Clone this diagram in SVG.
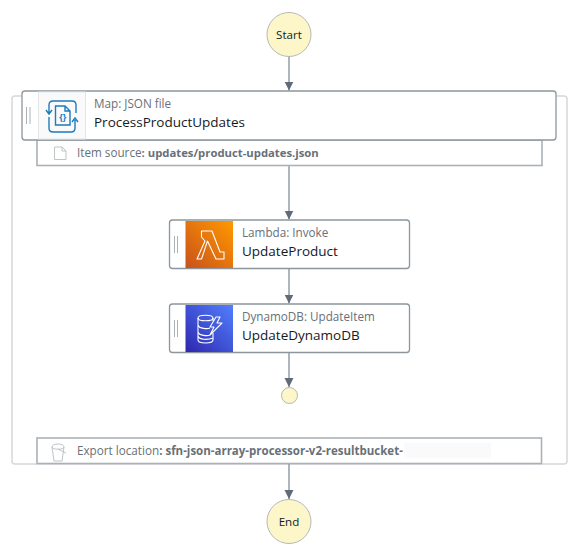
<svg xmlns="http://www.w3.org/2000/svg" width="579" height="555" viewBox="0 0 579 555">
<style>
text{font-family:"Open Sans","Noto Sans","Liberation Sans",sans-serif}
.term{fill:#fdf6c9;stroke:#b5b9b5;stroke-width:1}
.tt{font-size:11.6px;font-weight:500;fill:#16191f;text-anchor:middle}
.node{fill:#fff;stroke:#8d969c;stroke-width:1.3}
.bar{fill:#fff;stroke:#aab2b7;stroke-width:1.6}
.sub{font-size:11.7px;fill:#687078}
.name{font-size:13.5px;fill:#16191f}
.b{font-weight:700;font-size:11.3px}
.edge{fill:none;stroke:#5f6b7a;stroke-width:1;marker-end:url(#a)}
.grip{stroke:#aab2b7;stroke-width:1}
.ic{fill:none;stroke:#fff;stroke-width:1.1;stroke-linejoin:round}
.blue{fill:none;stroke:#1b7bbf;stroke-width:1.4}
.grey{fill:none;stroke:#b8bdc0;stroke-width:.9}
</style>
<defs>
<marker id="a" markerUnits="userSpaceOnUse" markerWidth="10" markerHeight="10" refX="9" refY="4.500" orient="auto"><path d="M0 0L9 4.500L0 9Z" fill="#5f6b7a"/></marker>
<linearGradient id="o" x1="0" y1="1" x2="1" y2="0"><stop offset="0" stop-color="#c8511b"/><stop offset="1" stop-color="#ff9900"/></linearGradient>
<linearGradient id="d" x1="0" y1="1" x2="1" y2="0"><stop offset="0" stop-color="#2e27ad"/><stop offset="1" stop-color="#527fff"/></linearGradient>
</defs>
<rect id="container" x="12" y="96" width="555" height="368" rx="3" fill="#fff" stroke="#d5d9dc" stroke-width="1.5"/>
<g id="edges">
<path class="edge" d="M289 56V90.500"/>
<path class="edge" d="M289 166V219.500"/>
<path class="edge" d="M289 268V303.500"/>
<path class="edge" d="M289 353V387"/>
<path class="edge" d="M289 464V499"/>
</g>
<g id="start"><circle class="term" cx="289" cy="34.500" r="22"/><text class="tt" x="289" y="39">Start</text></g>
<g id="item-source"><rect class="bar" x="37" y="140" width="505" height="25.500"/>
<path class="grey" d="M54.500 147H62L66 151V159.500H54.500Z M62 147V151H66"/>
<text class="sub" x="77" y="157">Item source<tspan class="b">: updates/product-updates.json</tspan></text></g>
<g id="map"><rect class="node" x="22" y="91" width="534" height="49" rx="3"/>
<rect x="38.500" y="92" width="47" height="47" fill="#fafafa" stroke="#e3e6e8" stroke-width="1"/>
<path class="grip" d="M26.500 107V124M30 107V124"/>
<path class="blue" d="M49 113V105Q49 101 53 101H72Q76 101 76 105V113M49 117V128Q49 132 53 132H71Q75 132 75 128V120M46 110L49 114L52 110M72 122L75 118L78 122"/>
<path class="blue" d="M55.500 106H65L70 111V125H55.500Z M65 106V111H70"/>
<text x="62.700" y="120" font-size="9" font-weight="700" fill="#1b7bbf" text-anchor="middle">{}</text>
<text class="sub" x="94" y="108">Map: JSON file</text><text class="name" x="94" y="127">ProcessProductUpdates</text></g>
<g id="update-product"><rect class="node" x="169.500" y="220" width="240" height="48.500" rx="3"/>
<rect x="185.500" y="221" width="47.500" height="47" fill="url(#o)"/>
<path class="grip" d="M174.500 236V253M177.500 236V253"/>
<path class="ic" d="M201.500 231H212L220 252H224V259H216L207.500 241L201.500 259H197L205 241L201.500 237Z"/>
<text class="sub" x="242" y="237">Lambda: Invoke</text><text class="name" x="242" y="256">UpdateProduct</text></g>
<g id="update-dynamodb"><rect class="node" x="169.500" y="304" width="240" height="48.500" rx="3"/>
<rect x="185.500" y="305" width="47.500" height="47" fill="url(#d)"/>
<path class="grip" d="M174.500 320V337M177.500 320V337"/>
<g class="ic"><ellipse cx="205.500" cy="318" rx="7.500" ry="2.800"/><path d="M198 318V340C198 344 213 344 213 340V333M198 325C199 329 208 329 210 328M198 332C199 336 208 336 210 335M198 336C199 340 208 340 213 338M213 318V321"/><path d="M216 317L210 327H214L210 335L222 323H217L220 317Z"/></g>
<text class="sub" x="242" y="321">DynamoDB: UpdateItem</text><text class="name" x="242" y="340">UpdateDynamoDB</text></g>
<g id="map-end"><circle class="term" cx="289.500" cy="395.500" r="8"/></g>
<g id="export-location"><rect class="bar" x="37" y="438" width="504.500" height="25.500"/>
<path class="grey" d="M52 447L54 461H62L64 447M52 447C52 443 64 443 64 447C64 450 52 450 52 447M58 449L66 453"/>
<text class="sub" x="77" y="455">Export location<tspan style="font-size:11.5px;font-weight:700">: sfn-json-array-processor-v2-resultbucket-</tspan></text>
<rect x="404" y="443" width="87" height="15" fill="#fafafa"/></g>
<g id="end"><circle class="term" cx="289" cy="521.500" r="22"/><text class="tt" x="289" y="526">End</text></g>
</svg>
